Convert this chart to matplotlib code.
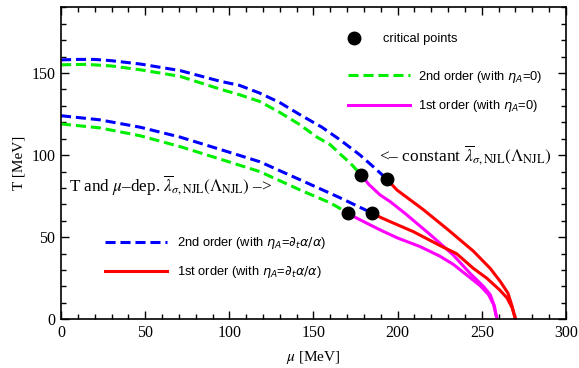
import numpy as np
import matplotlib.pyplot as plt
from matplotlib.font_manager import FontProperties
from matplotlib.lines import Line2D
from matplotlib.ticker import MultipleLocator

# ---------------- data ----------------
# upper branch: constant lambda_sigma,NJL
mu_2nd_const_eta = [0, 10, 20, 30, 47, 70.7, 94.5, 106, 118, 130, 142, 155, 165.8, 177.7, 186, 193.5]
T_2nd_const_eta = [158, 158.3, 158.3, 157.5, 155.5, 151.5, 145, 142.5, 137.8, 132, 124.6, 117, 109.3, 100, 92.5, 85.5]

mu_2nd_const_0 = [0, 15, 30, 47, 70.7, 94.5, 106, 118, 130, 142, 152, 160, 166, 171.7, 178.3]
T_2nd_const_0 = [155, 155.3, 154.3, 152, 148, 140.2, 136.8, 132.7, 126, 118.5, 111, 106.3, 100.5, 95.3, 88]

mu_1st_const_eta = [193.5, 199.5, 215, 230, 245, 255, 261, 265.5, 268, 270]
T_1st_const_eta = [85.5, 78.8, 67, 54.5, 41.5, 31, 23, 16, 8, 0]

mu_1st_const_0 = [178.3, 183, 189.5, 195.5, 205, 220, 233, 243, 251, 255, 257.5, 259]
T_1st_const_0 = [88, 82, 75.8, 71.7, 64, 51, 39.2, 28, 20, 15, 8, 0]

# lower branch: T and mu dependent lambda_sigma,NJL
mu_2nd_dep_eta = [0, 23, 47, 70.7, 94.5, 118, 142, 155, 165.8, 175, 185]
T_2nd_dep_eta = [124, 121.5, 117, 111, 103.5, 96, 85, 79, 74, 69.5, 64.6]

mu_2nd_dep_0 = [0, 23, 47, 70.7, 94.5, 118, 142, 160, 170.7]
T_2nd_dep_0 = [119, 116.6, 111.8, 105.2, 97.6, 90, 78.8, 70.9, 64.6]

mu_1st_dep_eta = [185, 190, 195.5, 209.3, 225, 235, 245, 253, 260.5, 265, 268, 270]
T_1st_dep_eta = [64.6, 62, 59.5, 53.4, 45, 40, 31, 25, 18, 13, 7, 0]

mu_1st_dep_0 = [170.7, 175, 189.5, 200, 213.3, 225, 233, 241, 249, 254, 257, 259]
T_1st_dep_0 = [64.6, 62, 54.5, 49.5, 44.3, 38.5, 33.5, 27, 20.5, 15, 9, 0]

mu_cp = [178.3, 193.5, 170.7, 185]
T_cp = [88, 85.5, 64.6, 64.6]

# ---------------- style ----------------
plt.rcParams['mathtext.fontset'] = 'stix'
serif = 'Liberation Serif'
sans = 'Liberation Sans'
lw = 2.2
dash = (0, (3.3, 1.6))
blue, green, red, mag = '#0000ff', '#00ee00', '#ff0000', '#ff00ff'

fig = plt.figure(figsize=(5.79, 3.68), dpi=100)
ax = fig.add_axes([0.1054, 0.1323, 0.8721, 0.8477])

ax.plot(mu_2nd_const_0, T_2nd_const_0, color=green, lw=lw, ls=dash)
ax.plot(mu_2nd_dep_0, T_2nd_dep_0, color=green, lw=lw, ls=dash)
ax.plot(mu_2nd_const_eta, T_2nd_const_eta, color=blue, lw=lw, ls=dash)
ax.plot(mu_2nd_dep_eta, T_2nd_dep_eta, color=blue, lw=lw, ls=dash)
ax.plot(mu_1st_const_0, T_1st_const_0, color=mag, lw=lw)
ax.plot(mu_1st_dep_0, T_1st_dep_0, color=mag, lw=lw)
ax.plot(mu_1st_const_eta, T_1st_const_eta, color=red, lw=lw)
ax.plot(mu_1st_dep_eta, T_1st_dep_eta, color=red, lw=lw)
ax.plot(mu_cp, T_cp, 'o', color='black', ms=9, zorder=5)

ax.set_xlim(0, 300)
ax.set_ylim(0, 190)
ax.xaxis.set_major_locator(MultipleLocator(50))
ax.xaxis.set_minor_locator(MultipleLocator(10))
ax.yaxis.set_major_locator(MultipleLocator(50))
ax.yaxis.set_minor_locator(MultipleLocator(10))
ax.tick_params(which='both', direction='in', top=True, right=True, width=1)
ax.tick_params(which='major', length=6, labelsize=11.5, pad=4)
ax.tick_params(which='minor', length=3.5)
for lab in ax.get_xticklabels() + ax.get_yticklabels():
    lab.set_fontfamily(serif)
for s in ax.spines.values():
    s.set_linewidth(1.2)

ax.set_xlabel(r'$\mu$ [MeV]', fontfamily=serif, fontsize=11, labelpad=6)
ax.set_ylabel('T [MeV]', fontfamily=serif, fontsize=11, labelpad=4)

# ---------------- legends ----------------
lp = FontProperties(family=sans, size=9.3, math_fontfamily='dejavusans')
h_cp = [Line2D([], [], ls='none', marker='o', color='black', ms=9)]
leg1 = ax.legend(h_cp, ['critical points'], prop=lp, frameon=False,
                 loc='upper left', bbox_to_anchor=(0.527, 0.955),
                 handlelength=2.4, handletextpad=1.0)
ax.add_artist(leg1)

h_top = [Line2D([], [], color=green, lw=lw, ls=dash),
         Line2D([], [], color=mag, lw=lw)]
leg2 = ax.legend(h_top, [r'2nd order (with $\eta_A$=0)', r'1st order (with $\eta_A$=0)'],
                 prop=lp, frameon=False, loc='upper left',
                 bbox_to_anchor=(0.545, 0.84), handlelength=4.8,
                 handletextpad=0.6, labelspacing=1.02)
ax.add_artist(leg2)

h_bot = [Line2D([], [], color=blue, lw=lw, ls=dash),
         Line2D([], [], color=red, lw=lw)]
ax.legend(h_bot, [r'2nd order (with $\eta_A$=$\partial_t\alpha/\alpha$)',
                  r'1st order (with $\eta_A$=$\partial_t\alpha/\alpha$)'],
          prop=lp, frameon=False, loc='upper left',
          bbox_to_anchor=(0.065, 0.307), handlelength=4.8,
          handletextpad=0.7, labelspacing=1.02)

# ---------------- annotations ----------------
ax.text(189, 99.5, r'<– constant $\overline{\lambda}_{\sigma,\mathrm{NJL}}(\Lambda_{\mathrm{NJL}})$',
        fontfamily=serif, fontsize=12.5, va='center', ha='left')
ax.text(5, 81, r'T and $\mu$–dep. $\overline{\lambda}_{\sigma,\mathrm{NJL}}(\Lambda_{\mathrm{NJL}})$ –>',
        fontfamily=serif, fontsize=12.3, va='center', ha='left')

fig.savefig('out.png', dpi=100)
